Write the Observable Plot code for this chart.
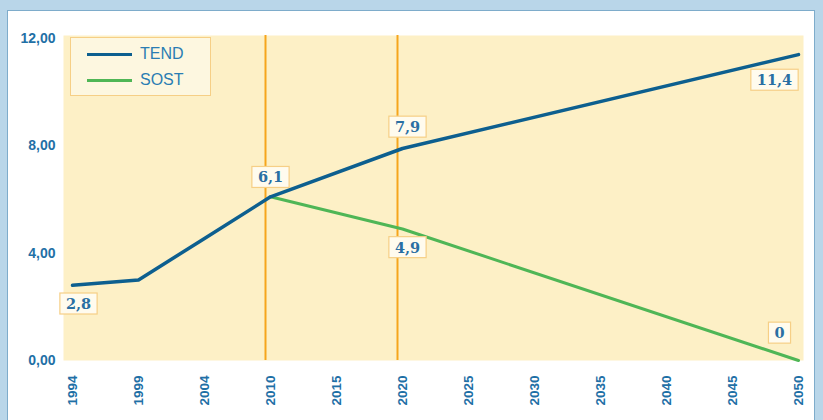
<!DOCTYPE html>
<html>
<head>
<meta charset="utf-8">
<script src="https://cdn.jsdelivr.net/npm/d3@7"></script>
<script src="https://cdn.jsdelivr.net/npm/@observablehq/plot@0.6"></script>
<style>
  html, body { margin: 0; padding: 0; }
  body { width: 823px; height: 420px; background: #b9d6e9; position: relative; overflow: hidden; font-family: "Liberation Sans", Arial, sans-serif; }
  #panel { position: absolute; left: 7px; top: 10px; width: 808px; height: 420px; background: #fff; border: 1px solid #7eaccb; box-sizing: border-box; }
  #chart { position: absolute; left: 0; top: 0; }
  #legend { position: absolute; left: 62px; top: 26px; width: 141px; height: 59px; background: #fdf7e0; border: 1px solid #f6cf86; box-sizing: border-box; }
  .lg { position: absolute; left: 16px; height: 18px; display: flex; align-items: center; color: #2a7db3; font-size: 16px; }
  .lg span.sw { display: inline-block; width: 45px; height: 3px; margin-right: 8px; }
</style>
</head>
<body>
<div id="panel">
  <div id="chart"></div>
  <div id="legend">
    <div class="lg" style="top:7px"><span class="sw" style="background:#0d5f8f"></span>TEND</div>
    <div class="lg" style="top:33px"><span class="sw" style="background:#4fb656"></span>SOST</div>
  </div>
</div>
<script>
// ---- data ----
const years = ["1994","1999","2004","2010","2015","2020","2025","2030","2035","2040","2045","2050"];
const tendYears = ["1994","1999","2004","2010","2020","2050"];
const tendValues = [2.8, 3.0, 4.55, 6.1, 7.9, 11.4];
const sostYears = ["2010","2020","2050"];
const sostValues = [6.1, 4.9, 0];
const markerYears = ["2010","2020"];
const yTicks = [0, 4, 8, 12];
const labelYears = ["1994","2010","2020","2020","2050","2050"];
const labelValues = [2.8, 6.1, 7.9, 4.9, 11.4, 0];
const labelTexts = ["2,8","6,1","7,9","4,9","11,4","0"];

const tend = tendYears.map((y, i) => ({year: y, value: tendValues[i]}));
const sost = sostYears.map((y, i) => ({year: y, value: sostValues[i]}));
const labels = labelYears.map((y, i) => ({year: y, value: labelValues[i], text: labelTexts[i]}));
const labelOffsets = [[6, 19], [0, -19], [5, -21], [5, 19], [-24, 26], [-19, -27]];

const blue = "#1f70a6";

const plot = Plot.plot({
  width: 806,
  height: 409,
  marginLeft: 55,
  marginRight: 11,
  marginTop: 24,
  marginBottom: 60,
  style: {background: "transparent", fontFamily: "'Liberation Sans', Arial, sans-serif"},
  x: {type: "point", domain: years, padding: 0, insetLeft: 6.5, insetRight: 2, label: null},
  y: {domain: [0, 12], insetTop: 3, label: null},
  marks: [
    Plot.frame({fill: "#fdf0c6", stroke: null}),
    Plot.axisY({ticks: yTicks, tickSize: 0, tickPadding: 8, tickFormat: d => d.toFixed(2).replace(".", ","),
      fill: blue, fontSize: 14, fontWeight: "bold", label: null}),
    Plot.axisX({tickSize: 0, tickPadding: 15, tickRotate: -90, fill: blue, fontSize: 13.5, fontWeight: "bold", label: null}),
    Plot.ruleX(markerYears, {stroke: "#f6a51c", strokeWidth: 2, dx: -5}),
    Plot.line(sost, {x: "year", y: "value", stroke: "#4fb656", strokeWidth: 3}),
    Plot.line(tend, {x: "year", y: "value", stroke: "#0d5f8f", strokeWidth: 3.5}),
    ...labels.map((d, i) => Plot.text([d], {x: "year", y: "value", text: "text",
      dx: labelOffsets[i][0], dy: labelOffsets[i][1], fill: "#2a6fa3",
      fontFamily: "'DejaVu Serif', serif", fontWeight: "bold", fontSize: 14.5, className: "vlabel"}))
  ]
});
document.getElementById("chart").appendChild(plot);

// boxes behind value labels
plot.querySelectorAll(".vlabel text").forEach(t => {
  const b = t.getBBox();
  const r = document.createElementNS("http://www.w3.org/2000/svg", "rect");
  r.setAttribute("x", b.x - 6);
  r.setAttribute("y", b.y - 2);
  r.setAttribute("width", b.width + 12);
  r.setAttribute("height", b.height + 4);
  r.setAttribute("fill", "#fffbee");
  r.setAttribute("stroke", "#f6cf86");
  r.setAttribute("stroke-width", 1.2);
  const tr = t.getAttribute("transform");
  if (tr) r.setAttribute("transform", tr);
  t.parentNode.insertBefore(r, t);
});
</script>
</body>
</html>
